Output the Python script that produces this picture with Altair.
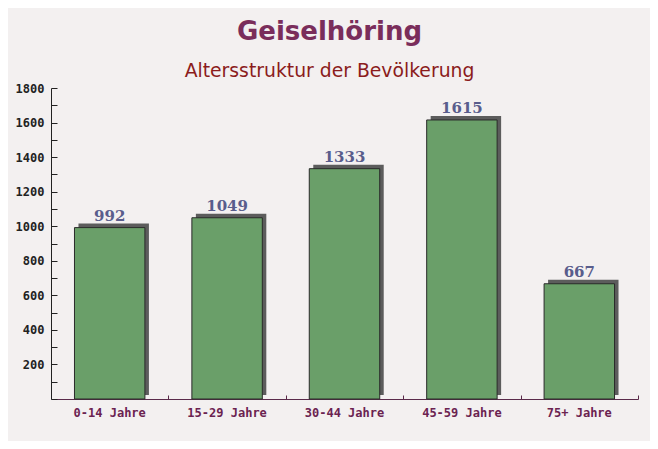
import altair as alt
import pandas as pd

categories = ["0-14 Jahre", "15-29 Jahre", "30-44 Jahre", "45-59 Jahre", "75+ Jahre"]
values = [992, 1049, 1333, 1615, 667]
y_label_values = [200, 400, 600, 800, 1000, 1200, 1400, 1600, 1800]
y_tick_values = list(range(0, 1900, 100))

df = pd.DataFrame({"cat": categories, "val": values})

W, H = 587, 311
xscale = alt.Scale(paddingInner=0.4, paddingOuter=0.2)
yscale = alt.Scale(domain=[0, 1800], nice=False)

MONO = "DejaVu Sans Mono"

shadow = alt.Chart(df).mark_bar(color="#5c5c5c", xOffset=4, yOffset=-4).encode(
    x=alt.X("cat:N", sort=categories, scale=xscale, title=None,
            axis=alt.Axis(orient="bottom", labels=False, domain=False, ticks=True,
                          tickSize=4, offset=-4, tickOffset=58.7, tickColor="#5a2a4a",
                          grid=False)),
    y=alt.Y("val:Q", scale=yscale, title=None,
            axis=alt.Axis(orient="left", labels=False, domain=False, ticks=True,
                          tickSize=6, offset=-6, values=y_tick_values, tickColor="#222222",
                          grid=False)),
)

bars = alt.Chart(df).mark_bar(color="#6a9f69", stroke="#2a2a2a", strokeWidth=1).encode(
    x=alt.X("cat:N", sort=categories, scale=xscale, title=None,
            axis=alt.Axis(orient="bottom", labelAngle=0, ticks=False, domain=True,
                          domainColor="#5a2a4a", labelColor="#6b2350",
                          labelFont=MONO, labelFontSize=12, labelFontWeight="bold",
                          labelPadding=8, grid=False)),
    y=alt.Y("val:Q", scale=yscale, title=None,
            axis=alt.Axis(orient="left", ticks=False, domain=True, domainColor="#222222",
                          values=y_label_values, format="d", labelColor="#222222",
                          labelFont=MONO, labelFontSize=12, labelFontWeight="bold",
                          labelPadding=7, grid=False)),
)

labels = alt.Chart(df).mark_text(
    font="DejaVu Serif", fontSize=15, fontWeight="bold", color="#595d8c",
    baseline="alphabetic", dy=-7, dx=0
).encode(
    x=alt.X("cat:N", sort=categories, scale=xscale, axis=None),
    y=alt.Y("val:Q", scale=yscale, axis=None),
    text=alt.Text("val:Q"),
)

chart = alt.layer(shadow, bars, labels).resolve_axis(
    x="independent", y="independent"
).properties(
    width=W, height=H,
    autosize=alt.AutoSizeParams(type="none"),
    padding={"left": 43, "top": 80, "right": 12, "bottom": 42},
    background="#f3f0f0",
    title=alt.TitleParams(
        text="Geiselhöring",
        subtitle="Altersstruktur der Bevölkerung",
        font="DejaVu Sans", fontSize=26, fontWeight="bold", color="#7a2d5b",
        subtitleFont="DejaVu Sans", subtitleFontSize=18.8, subtitleColor="#8b1c1c",
        subtitlePadding=17, anchor="middle", dx=-15, offset=1,
    ),
).configure_view(stroke=None)

chart.save("out.html", embed_options={"renderer": "svg", "actions": False})
